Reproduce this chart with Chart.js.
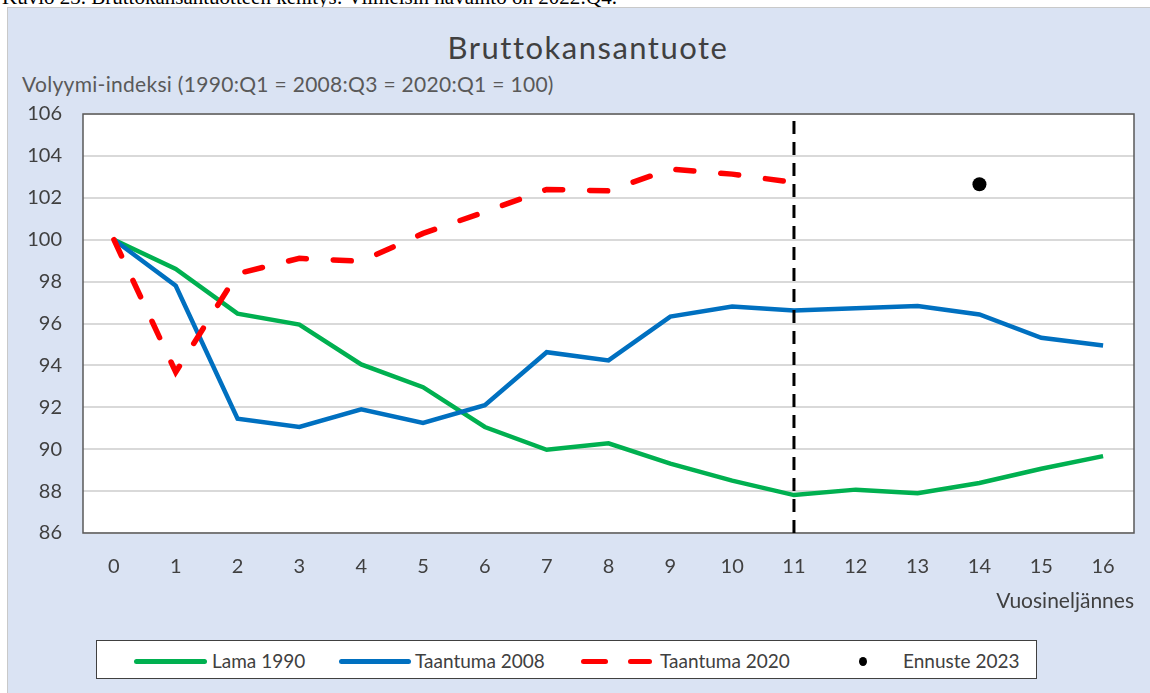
<!DOCTYPE html>
<html>
<head>
<meta charset="utf-8">
<script src="https://cdn.jsdelivr.net/npm/chart.js@4.4.0/dist/chart.umd.min.js"></script>
<style>
  body { margin: 0; width: 1150px; height: 693px; overflow: hidden; background: #fff; font-family: Lato, "Open Sans", sans-serif; position: relative; }
  #kuvateksti { position: absolute; left: 2px; top: -15px; font: 21px "Liberation Serif", serif; color: #000; white-space: nowrap; }
  #paneeli { position: absolute; left: 7px; top: 7px; width: 1160px; height: 700px; background: #dae3f3; border: 1px solid #c9c9c9; }
  #otsikko { position: absolute; left: 0; width: 1176px; top: 28px; text-align: center; font-size: 31px; letter-spacing: 1.5px; color: #404040; }
  #alaotsikko { position: absolute; left: 22px; top: 71px; font-size: 21px; letter-spacing: 0.3px; color: #595959; white-space: nowrap; }
  #kuvio { position: absolute; left: 0; top: 81px; }
  #selite { position: absolute; left: 96px; top: 640px; width: 941px; height: 39px; background: #fff; border: 1px solid #404040; box-sizing: border-box; }
  .nayte { position: absolute; top: 18px; height: 5px; border-radius: 3px; }
  .teksti { position: absolute; top: 8px; font-size: 19px; color: #404040; white-space: nowrap; }
</style>
</head>
<body>
<div id="kuvateksti">Kuvio 23. Bruttokansantuotteen kehitys: Viimeisin havainto on 2022:Q4.</div>
<div id="paneeli"></div>
<div id="otsikko">Bruttokansantuote</div>
<div id="alaotsikko">Volyymi-indeksi (1990:Q1 = 2008:Q3 = 2020:Q1 = 100)</div>
<canvas id="kuvio" width="1150" height="539"></canvas>
<div id="selite"></div>
<script>
// vuosineljännekset kriisin alusta
const neljannekset = ["0", "1", "2", "3", "4", "5", "6", "7", "8", "9", "10", "11", "12", "13", "14", "15", "16"];

const lama1990 = [100, 98.6, 96.47, 95.95, 94.05, 92.96, 91.06, 89.97, 90.28, 89.31, 88.5, 87.81, 88.07, 87.9, 88.39, 89.07, 89.67];
const taantuma2008 = [100, 97.8, 91.46, 91.06, 91.9, 91.25, 92.1, 94.63, 94.24, 96.33, 96.81, 96.62, 96.73, 96.83, 96.43, 95.32, 94.95];
const taantuma2020 = [100, 93.68, 98.38, 99.11, 98.97, 100.3, 101.33, 102.4, 102.33, 103.37, 103.13, 102.73];
const ennuste2023 = [null, null, null, null, null, null, null, null, null, null, null, null, null, null, 102.65];

const viimeisinHavainto = "11";
const yMin = 86;
const yMax = 106;
const yAskel = 2;

const sarjaNimet = ["Lama 1990", "Taantuma 2008", "Taantuma 2020", "Ennuste 2023"];

const fontti = "Lato, 'Open Sans', sans-serif";

// valkoinen piirtoalue ja reunus
const piirtoalue = {
  id: "piirtoalue",
  beforeDraw(chart) {
    const { ctx, chartArea: a } = chart;
    ctx.save();
    ctx.fillStyle = "#fff";
    ctx.fillRect(a.left, a.top, a.width, a.height);
    ctx.restore();
  },
  beforeDatasetsDraw(chart) {
    const { ctx, chartArea: a } = chart;
    ctx.save();
    ctx.strokeStyle = "#595959";
    ctx.lineWidth = 1.5;
    ctx.strokeRect(a.left, a.top, a.width, a.height);
    ctx.restore();
  }
};

const config = {
  type: "line",
  data: {
    labels: neljannekset,
    datasets: [
      { label: sarjaNimet[0], data: lama1990, borderColor: "#00b050", borderWidth: 4.5, pointRadius: 0, order: 4 },
      { label: sarjaNimet[1], data: taantuma2008, borderColor: "#0070c0", borderWidth: 4.5, pointRadius: 0, order: 3 },
      {
        label: sarjaNimet[2], data: taantuma2020, borderColor: "#ff0000", borderWidth: 5.5,
        borderDash: [18, 27], borderCapStyle: "round", pointRadius: 0, order: 2
      },
      {
        label: "raja",
        data: [{ x: viimeisinHavainto, y: yMin }, { x: viimeisinHavainto, y: yMax }],
        borderColor: "#000", borderWidth: 3, borderDash: [13, 8], pointRadius: 0, order: 1
      },
      {
        label: sarjaNimet[3], data: ennuste2023, showLine: false, pointRadius: 7,
        pointBackgroundColor: "#000", pointBorderWidth: 0, order: 0
      }
    ]
  },
  options: {
    responsive: false,
    animation: false,
    layout: { padding: { top: 13, right: 16, left: 0, bottom: 0 } },
    plugins: { legend: { display: false }, tooltip: { enabled: false } },
    scales: {
      x: {
        offset: true,
        grid: { display: false, drawTicks: false },
        border: { display: false },
        ticks: { padding: 22, color: "#404040", font: { family: fontti, size: 20 } },
        title: {
          display: true, text: "Vuosineljännes", align: "end", color: "#404040",
          font: { family: fontti, size: 21 }, padding: { bottom: 6 }
        },
        afterFit(s) { s.height = 87; }
      },
      y: {
        min: yMin,
        max: yMax,
        ticks: { stepSize: yAskel, padding: 21, color: "#404040", font: { family: fontti, size: 20 } },
        grid: { color: "#d9d9d9", lineWidth: 2, drawTicks: false },
        border: { display: false },
        afterFit(s) { s.width = 83; }
      }
    }
  },
  plugins: [piirtoalue]
};

new Chart(document.getElementById("kuvio"), config);

// selite
const selite = document.getElementById("selite");
selite.innerHTML = `
  <div class="nayte" style="left:37px;width:73px;background:#00b050"></div>
  <div class="teksti" style="left:115px">${sarjaNimet[0]}</div>
  <div class="nayte" style="left:242px;width:72px;background:#0070c0"></div>
  <div class="teksti" style="left:318px">${sarjaNimet[1]}</div>
  <div class="nayte" style="left:484px;width:27px;background:#ff0000"></div>
  <div class="nayte" style="left:531px;width:24px;background:#ff0000"></div>
  <div class="teksti" style="left:563px">${sarjaNimet[2]}</div>
  <div class="nayte" style="left:762px;top:16px;width:8px;height:9px;border-radius:50%;background:#000"></div>
  <div class="teksti" style="left:806px">${sarjaNimet[3]}</div>
`;
</script>
</body>
</html>
